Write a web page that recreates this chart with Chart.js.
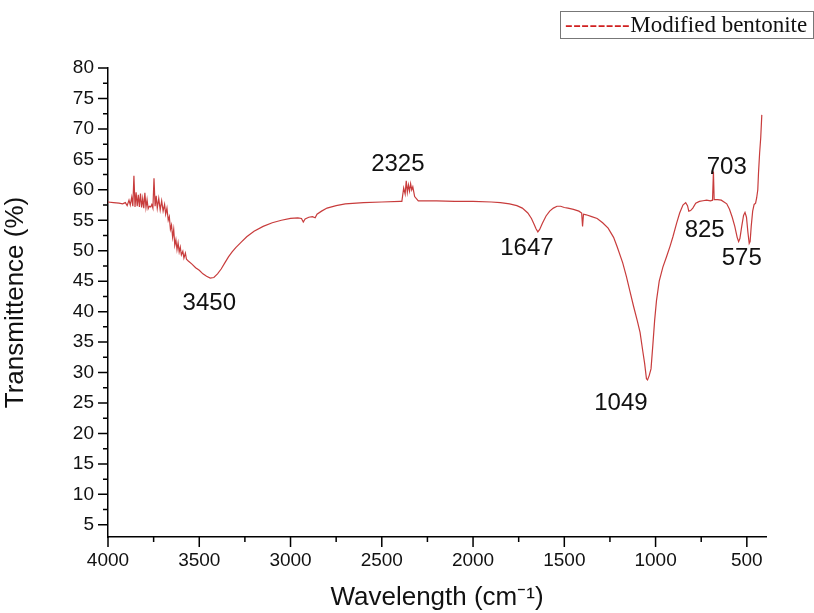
<!DOCTYPE html>
<html>
<head>
<meta charset="utf-8">
<title>FTIR - Modified bentonite</title>
<script src="https://cdn.jsdelivr.net/npm/chart.js@4.4.1/dist/chart.umd.min.js"></script>
<style>
  html, body { margin: 0; padding: 0; background: #fff; }
  #wrap { position: relative; width: 814px; height: 613px; }
  #legend {
    position: absolute; left: 560px; top: 11px; width: 254px; height: 28px;
    border: 1px solid #777; font-family: 'Liberation Serif', 'Times New Roman', serif;
    font-size: 23px; line-height: 26px; white-space: nowrap; box-sizing: border-box;
    padding-left: 4px; color: #111; overflow: hidden;
  }
  #legend .dash { color: #d02020; letter-spacing: 0.5px; }
</style>
</head>
<body>
<div id="wrap">
  <canvas id="myChart" width="814" height="613"></canvas>
  <div id="legend"><span class="dash">--------</span>Modified bentonite</div>
</div>
<script>
// Spectrum (wavenumber in cm-1, transmittance in %)
var wavenumbers = [
  4000, 3970, 3940, 3920, 3905, 3895, 3885, 3878, 3870, 3864,
  3858, 3852, 3846, 3840, 3834, 3828, 3822, 3816, 3810, 3804,
  3798, 3792, 3786, 3780, 3774, 3766, 3760, 3754, 3748, 3742,
  3736, 3730, 3722, 3714, 3706, 3698, 3690, 3684, 3677, 3670,
  3664, 3658, 3652, 3646, 3640, 3634, 3628, 3622, 3616, 3610,
  3604, 3598, 3590, 3584, 3576, 3570, 3560, 3540, 3520, 3500,
  3480, 3460, 3440, 3420, 3400, 3380, 3360, 3340, 3320, 3300,
  3270, 3240, 3200, 3150, 3100, 3050, 3000, 2960, 2940, 2930,
  2920, 2900, 2880, 2865, 2855, 2830, 2800, 2750, 2700, 2600,
  2500, 2400, 2390, 2380, 2372, 2366, 2360, 2354, 2348, 2342,
  2336, 2330, 2320, 2300, 2200, 2100, 2000, 1900, 1850, 1800,
  1760, 1730, 1700, 1680, 1665, 1655, 1645, 1635, 1620, 1600,
  1580, 1560, 1540, 1520, 1500, 1480, 1450, 1420, 1405, 1400,
  1395, 1380, 1350, 1320, 1290, 1260, 1230, 1210, 1180, 1160,
  1140, 1120, 1100, 1085, 1070, 1060, 1050, 1044, 1035, 1025,
  1015, 1005, 995, 980, 960, 940, 920, 905, 885, 868,
  850, 835, 825, 818, 808, 796, 780, 760, 740, 720,
  700, 688, 683, 679, 660, 640, 625, 610, 595, 580,
  566, 553, 545, 538, 528, 518, 510, 502, 494, 487,
  482, 476, 468, 460, 452, 446, 440, 436, 430, 424,
  418
];
var transmittance = [
  58.0, 57.9, 57.8, 57.7, 57.9, 57.4, 58.3, 57.5, 58.8, 57.3,
  62.3, 57.2, 59.6, 57.3, 59.2, 57.2, 59.4, 57.1, 58.6, 57.0,
  59.5, 57.1, 58.4, 56.9, 57.3, 57.2, 57.6, 57.0, 61.9, 57.3,
  59.0, 57.0, 58.6, 56.7, 58.2, 56.5, 57.6, 56.0, 57.0, 55.0,
  55.6, 53.5, 54.2, 52.2, 53.5, 50.9, 51.8, 50.2, 51.3, 49.8,
  50.6, 49.3, 49.9, 48.8, 49.6, 48.6, 48.3, 47.8, 47.2, 46.8,
  46.2, 45.8, 45.5, 45.6, 46.2, 47.0, 48.0, 49.0, 49.8, 50.5,
  51.4, 52.3, 53.2, 54.0, 54.6, 55.0, 55.3, 55.4, 55.3, 54.7,
  55.2, 55.5, 55.6, 55.4, 56.0, 56.5, 57.0, 57.4, 57.7, 57.9,
  58.0, 58.1, 58.1, 60.3, 59.3, 61.5, 59.6, 60.8, 59.8, 61.0,
  60.0, 60.5, 58.9, 58.2, 58.2, 58.1, 58.1, 58.0, 57.9, 57.7,
  57.4, 57.0, 56.2, 55.3, 54.3, 53.6, 53.1, 53.5, 54.5, 55.7,
  56.5, 57.0, 57.3, 57.3, 57.1, 57.0, 56.8, 56.5, 56.2, 54.0,
  56.0, 55.9, 55.6, 55.3, 54.6, 53.7, 52.2, 50.6, 48.0, 45.8,
  43.3, 40.8, 38.5, 36.6, 33.5, 31.5, 29.0, 28.8, 29.5, 30.6,
  34.5, 38.6, 41.8, 45.0, 47.3, 49.0, 50.8, 52.3, 54.5, 56.2,
  57.5, 57.9, 57.4, 56.5, 56.6, 57.0, 57.8, 58.1, 58.2, 58.3,
  58.2, 58.3, 63.0, 58.4, 58.4, 58.3, 58.0, 57.7, 56.8, 55.5,
  54.0, 52.2, 51.5, 52.0, 54.0, 55.8, 56.3, 55.5, 53.0, 51.2,
  51.5, 54.0, 56.5, 57.6, 57.8, 58.7, 60.0, 62.8, 66.0, 68.5,
  72.3
];

// Peak annotations
var peakLabels = ['3450', '2325', '1647', '1049', '703', '825', '575'];
var peakLabelX = [3445, 2412, 1705, 1190, 610, 731, 528];
var peakLabelY = [41.4, 64.1, 50.4, 25.0, 63.7, 53.4, 48.8];

// Axis ticks (major ones get a label)
var xTickValues = [500, 750, 1000, 1250, 1500, 1750, 2000, 2250, 2500, 2750, 3000, 3250, 3500, 3750, 4000];
var yTickValues = [5, 7.5, 10, 12.5, 15, 17.5, 20, 22.5, 25, 27.5, 30, 32.5, 35, 37.5, 40, 42.5, 45, 47.5, 50, 52.5, 55, 57.5, 60, 62.5, 65, 67.5, 70, 72.5, 75, 77.5, 80];

var points = wavenumbers.map(function(w, i) { return {x: w, y: transmittance[i]}; });

var tickFont = {family: "'Liberation Sans Narrow', 'Liberation Sans', Arial, sans-serif", size: 19};
var titleFont = {family: "'Liberation Sans', Arial, sans-serif", size: 26};

// Draws the tick marks (long for labelled ticks, short for the others) and the peak labels
var decorations = {
  id: 'decorations',
  afterDraw: function(chart) {
    var ctx = chart.ctx;
    var xs = chart.scales.x, ys = chart.scales.y;
    ctx.save();
    ctx.strokeStyle = '#000';
    ctx.lineWidth = 1.5;
    ctx.beginPath();
    xs.ticks.forEach(function(t) {
      var px = xs.getPixelForValue(t.value);
      var len = t.value % 500 === 0 ? 10 : 5;
      ctx.moveTo(px, xs.top);
      ctx.lineTo(px, xs.top + len);
    });
    ys.ticks.forEach(function(t) {
      var py = ys.getPixelForValue(t.value);
      var len = t.value % 5 === 0 ? 10 : 5;
      ctx.moveTo(ys.right, py);
      ctx.lineTo(ys.right - len, py);
    });
    ctx.stroke();

    ctx.fillStyle = '#111';
    ctx.font = "24px 'Liberation Sans', Arial, sans-serif";
    ctx.textAlign = 'center';
    ctx.textBaseline = 'middle';
    peakLabels.forEach(function(lbl, i) {
      ctx.fillText(lbl, xs.getPixelForValue(peakLabelX[i]), ys.getPixelForValue(peakLabelY[i]));
    });
    ctx.restore();
  }
};

var ctx = document.getElementById('myChart').getContext('2d');

var myChart = new Chart(ctx, {
  type: 'line',
  data: {
    datasets: [{
      label: 'Modified bentonite',
      data: points,
      borderColor: '#c83c3c',
      borderWidth: 1.2,
      pointRadius: 0,
      tension: 0,
      fill: false
    }]
  },
  options: {
    responsive: false,
    animation: false,
    layout: {
      padding: {top: 68, right: 48, left: 0, bottom: 0}
    },
    plugins: {
      legend: {display: false},
      tooltip: {enabled: false}
    },
    scales: {
      x: {
        type: 'linear',
        reverse: true,
        min: 395,
        max: 4000,
        afterBuildTicks: function(scale) {
          scale.ticks = xTickValues.map(function(v) { return {value: v}; });
        },
        afterFit: function(scale) { scale.height = 76; },
        ticks: {
          autoSkip: false,
          maxRotation: 0,
          padding: 2,
          color: '#111',
          font: tickFont,
          callback: function(v) { return v % 500 === 0 ? String(v) : ''; }
        },
        grid: {drawOnChartArea: false, drawTicks: true, tickLength: 10, tickColor: 'rgba(0,0,0,0)'},
        border: {display: true, color: '#000', width: 1.5},
        title: {
          display: true,
          text: 'Wavelength (cm\u207B\u00B9)',
          color: '#111',
          font: titleFont,
          padding: {top: 2, bottom: 0}
        }
      },
      y: {
        min: 3,
        max: 80,
        afterBuildTicks: function(scale) {
          scale.ticks = yTickValues.map(function(v) { return {value: v}; });
        },
        afterFit: function(scale) { scale.width = 108; },
        ticks: {
          autoSkip: false,
          padding: 4,
          color: '#111',
          font: tickFont,
          callback: function(v) { return v % 5 === 0 ? String(v) : ''; }
        },
        grid: {drawOnChartArea: false, drawTicks: true, tickLength: 10, tickColor: 'rgba(0,0,0,0)'},
        border: {display: true, color: '#000', width: 1.5},
        title: {
          display: true,
          text: 'Transmittence (%)',
          color: '#111',
          font: titleFont,
          padding: {top: 0, bottom: 2}
        }
      }
    }
  },
  plugins: [decorations]
});
</script>
</body>
</html>
